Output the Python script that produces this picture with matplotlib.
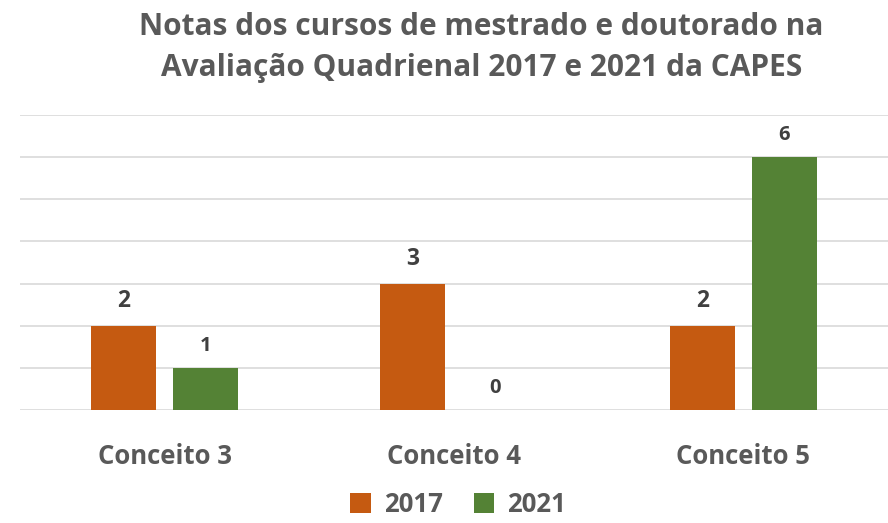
import matplotlib.pyplot as plt
import numpy as np

categories = ['Conceito 3', 'Conceito 4', 'Conceito 5']
notas_2017 = [2, 3, 2]
notas_2021 = [1, 0, 6]
series_labels = ['2017', '2021']

plt.rcParams['font.family'] = ['Open Sans', 'DejaVu Sans']

fig = plt.figure(figsize=(8.88, 5.23), dpi=100)
ax = fig.add_axes([20 / 888, 1 - 410 / 523, 1 - 20 / 888, (410 - 115) / 523])

x = np.arange(len(categories))
w = 0.225
off = 0.142
b1 = ax.bar(x - off, notas_2017, w, color='#C55A11', label=series_labels[0], zorder=3)
b2 = ax.bar(x + off, notas_2021, w, color='#548235', label=series_labels[1], zorder=3)

# rotulos de dados (2017 um pouco maiores, como no original)
for bars, fs, dy in ((b1, 16.5, 13.5), (b2, 14.5, 12)):
    for rect in bars:
        h = rect.get_height()
        ax.annotate(str(int(h)), (rect.get_x() + rect.get_width() / 2, h),
                    xytext=(0, dy), textcoords='offset points', ha='center', va='baseline',
                    fontsize=fs, fontweight='bold', color='#404040')

ax.set_xlim(-0.5, 2.5)
ax.set_ylim(0, 7)
ax.set_yticks(range(0, 8))
ax.yaxis.grid(True, color='#D9D9D9', linewidth=1.2, zorder=0)
ax.tick_params(axis='y', left=False, labelleft=False)
ax.tick_params(axis='x', bottom=False, pad=20)
ax.set_xticks(x)
ax.set_xticklabels(categories, fontsize=18.5, fontweight='bold', color='#595959')
for s in ax.spines.values():
    s.set_visible(False)

fig.text(0.542, 1 - 35 / 523, 'Notas dos cursos de mestrado e doutorado na',
         ha='center', va='baseline', fontsize=21.5, fontweight='bold', color='#595959')
fig.text(0.542, 1 - 76 / 523, 'Avaliação Quadrienal 2017 e 2021 da CAPES',
         ha='center', va='baseline', fontsize=21.5, fontweight='bold', color='#595959')

leg = fig.legend(handles=[b1, b2], loc='center', bbox_to_anchor=(0.516, 0.035), ncol=2, frameon=False,
                 fontsize=18.5, handlelength=0.8, handleheight=0.8, handletextpad=0.5, columnspacing=1.2)
for t in leg.get_texts():
    t.set_fontweight('bold')
    t.set_color('#595959')

fig.savefig('out.png', dpi=100)
